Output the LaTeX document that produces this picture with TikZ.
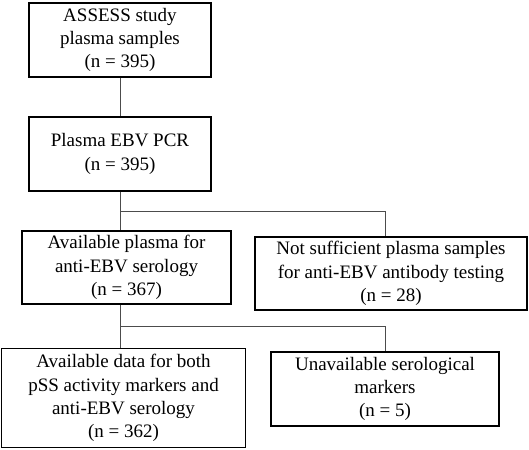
\documentclass[tikz,border=0pt]{standalone}
\usepackage{fontspec}
\setmainfont{Liberation Serif}
\begin{document}
\begin{tikzpicture}[x=1pt,y=-1pt,
  box/.style={draw=black,line width=1.4pt,align=center,inner sep=0pt,
    font=\fontsize{19}{23.3}\selectfont},
  link/.style={draw=black!70,line width=1pt}]
\useasboundingbox (0,0) rectangle (529,449);
\node[box,minimum width=182pt,minimum height=74pt] (b1) at (120,40)
  {ASSESS study\\plasma samples\\(n = 395)};
\node[box,minimum width=182pt,minimum height=74pt] (b2) at (120,154)
  {Plasma EBV PCR\\(n = 395)};
\node[box,minimum width=209pt,minimum height=73pt] (b3) at (126.5,267.5)
  {Available plasma for\\anti-EBV serology\\(n = 367)};
\node[box,minimum width=272pt,minimum height=73pt] (b4) at (391,273.5)
  {Not sufficient plasma samples\\for anti-EBV antibody testing\\(n = 28)};
\node[box,minimum width=244pt,minimum height=99pt] (b5) at (123.5,398)
  {Available data for both\\pSS activity markers and\\anti-EBV serology\\(n = 362)};
\node[box,minimum width=228pt,minimum height=74pt] (b6) at (385,389)
  {Unavailable serological\\markers\\(n = 5)};
\coordinate (s1) at (120,211);
\coordinate (s2) at (120,326);
\draw[link] (b1.south -| s1) -- (b2.north -| s1);
\draw[link] (b2.south -| s1) -- (b3.north -| s1);
\draw[link] (s1) -| (b4.north -| 385,0);
\draw[link] (b3.south -| s2) -- (b5.north -| s2);
\draw[link] (s2) -| (b6.north);
\end{tikzpicture}
\end{document}
